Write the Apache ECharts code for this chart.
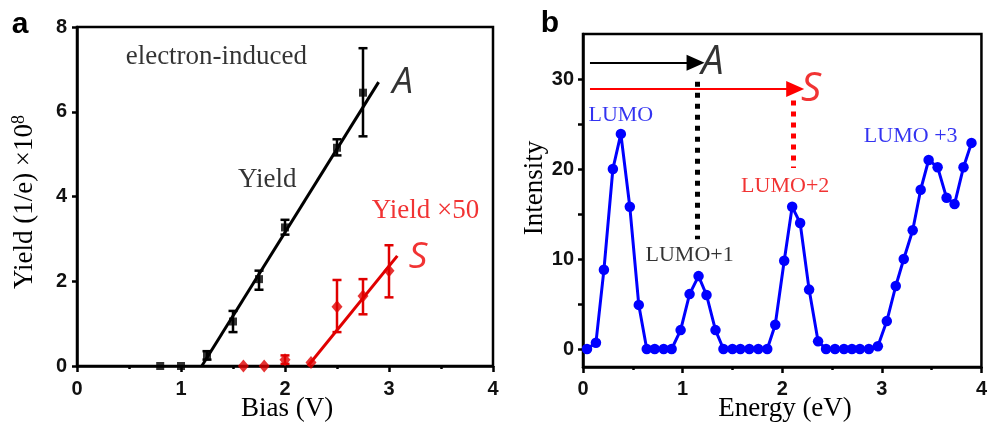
<!DOCTYPE html>
<html><head><meta charset="utf-8">
<script src="https://cdn.jsdelivr.net/npm/echarts@6/dist/echarts.min.js"></script>
<style>html,body{margin:0;padding:0;background:#fff}#c{width:990px;height:426px}</style>
</head><body><div id="c"></div>
<script>
// ---------- Panel a data ----------
const biasA   = [0.8, 1.0, 1.25, 1.5, 1.75, 2.0, 2.5, 2.75];
const yieldA  = [0, 0, 0.25, 1.05, 2.05, 3.27, 5.15, 6.45];
const errLoA  = [0, 0, 0.15, 0.8, 1.8, 3.1, 4.97, 5.42];
const errHiA  = [0, 0, 0.35, 1.3, 2.25, 3.45, 5.35, 7.5];
const biasS   = [1.6, 1.8, 2.0, 2.25, 2.5, 2.75, 3.0];
const yieldS  = [0, 0, 0.15, 0.08, 1.4, 1.65, 2.25];
const errLoS  = [0, 0, 0.05, 0.08, 0.8, 1.22, 1.62];
const errHiS  = [0, 0, 0.25, 0.08, 2.03, 2.05, 2.85];
const fitA    = [[1.2, 0], [2.9, 6.7]];
const fitS    = [[2.22, 0], [3.08, 2.6]];
const xTicksA = [0, 1, 2, 3, 4];
const yTicksA = [0, 2, 4, 6, 8];

// ---------- Panel b data ----------
const energy = [0.04,0.13,0.21,0.30,0.38,0.47,0.56,0.64,0.72,0.81,0.89,0.98,1.07,1.16,1.24,1.33,1.41,1.50,1.58,1.67,1.76,1.85,1.93,2.02,2.10,2.18,2.27,2.36,2.44,2.53,2.62,2.70,2.78,2.87,2.96,3.05,3.14,3.22,3.31,3.39,3.47,3.56,3.65,3.73,3.82,3.90];
const intensity = [0,0.7,8.8,20.0,23.9,15.8,4.9,0,0,0,0,2.1,6.1,8.1,6.0,2.1,0,0,0,0,0,0,2.7,9.8,15.8,14.0,6.6,0.85,0,0,0,0,0,0,0.3,3.1,7.0,10.0,13.2,17.7,21.0,20.2,16.8,16.1,20.2,22.9];
const xTicksB = [0, 1, 2, 3, 4];
const yTicksB = [0, 10, 20, 30];
const yMinorB = [0, 5, 10, 15, 20, 25, 30];

// annotation positions (data coords)
const arrowA = [[0.07, 31.8], [1.13, 31.8]];
const arrowS = [[0.07, 28.9], [2.13, 28.9]];
const dotA   = [[1.146, 29.7], [1.146, 12.2]];
const dotS   = [[2.115, 27.6], [2.115, 20.1]];
const textsA = [
  {name:'electron-induced', value:[1.34, 7.29], c:'#000000', f:'serif'},
  {name:'Yield', value:[1.83, 4.39], c:'#000000', f:'serif'},
  {name:'Yield ×50', value:[3.35, 3.66], c:'#ee0000', f:'serif'},
  {name:'A', value:[3.13, 6.70], c:'#000000', f:'ital'},
  {name:'S', value:[3.28, 2.55], c:'#ee0000', f:'ital'}
];
const textsB = [
  {name:'LUMO', value:[0.38, 26.0], c:'#0000ee', f:'serifS'},
  {name:'LUMO+1', value:[1.07, 10.4], c:'#000000', f:'serifS'},
  {name:'LUMO+2', value:[2.03, 18.1], c:'#ee0000', f:'serifS'},
  {name:'LUMO +3', value:[3.29, 23.6], c:'#0000ee', f:'serifS'},
  {name:'A', value:[1.30, 31.8], c:'#000000', f:'italB'},
  {name:'S', value:[2.29, 28.8], c:'#ee0000', f:'italB'}
];

const fonts = {
  serif: {fontFamily:'Liberation Serif', fontSize:27},
  serifS:{fontFamily:'Liberation Serif', fontSize:22},
  ital:  {fontFamily:'Open Sans', fontStyle:'italic', fontSize:37},
  italB: {fontFamily:'Open Sans', fontStyle:'italic', fontSize:40}
};

function errItem(params, api) {
  const x = api.value(0), lo = api.value(1), hi = api.value(2);
  if (hi - lo < 1e-9) return null;
  const a = api.coord([x, lo]), b = api.coord([x, hi]);
  const w = 4.5;
  const st = {stroke: api.visual('color'), lineWidth: 2.5};
  return {type:'group', children:[
    {type:'line', shape:{x1:a[0], y1:a[1], x2:b[0], y2:b[1]}, style:st},
    {type:'line', shape:{x1:a[0]-w, y1:a[1], x2:a[0]+w, y2:a[1]}, style:st},
    {type:'line', shape:{x1:b[0]-w, y1:b[1], x2:b[0]+w, y2:b[1]}, style:st}
  ]};
}

const tickLbl = {fontFamily:'Liberation Sans', fontWeight:'bold', fontSize:20, color:'#111'};
const axisLine = {show:true, onZero:false, lineStyle:{color:'#000', width:2.5}};

const chart = echarts.init(document.getElementById('c'), null, {renderer:'canvas'});
chart.setOption({
  animation:false,
  backgroundColor:'#fff',
  grid:[
    {left:77, top:27, width:416, height:339, show:true, borderColor:'#000', borderWidth:2.5, backgroundColor:'transparent'},
    {left:583, top:34, width:406, height:333, show:true, borderColor:'#000', borderWidth:2.5, backgroundColor:'transparent'}
  ],
  xAxis:[
    {gridIndex:0, type:'value', min:0, max:4, interval:1, axisLine,
     axisTick:{show:true, length:6, lineStyle:{width:2.5, color:'#000'}},
     minorTick:{show:true, splitNumber:2, length:3, lineStyle:{width:2.5, color:'#000'}},
     splitLine:{show:false}, axisLabel:Object.assign({margin:13, customValues:xTicksA}, tickLbl)},
    {gridIndex:1, type:'value', min:0, max:4, interval:1, axisLine,
     axisTick:{show:true, length:6, lineStyle:{width:2.5, color:'#000'}},
     minorTick:{show:true, splitNumber:2, length:3, lineStyle:{width:2.5, color:'#000'}},
     splitLine:{show:false}, axisLabel:Object.assign({margin:12, customValues:xTicksB}, tickLbl)}
  ],
  yAxis:[
    {gridIndex:0, type:'value', min:0, max:8, interval:2, axisLine,
     axisTick:{show:true, length:5, lineStyle:{width:2.5, color:'#000'}},
     splitLine:{show:false}, axisLabel:Object.assign({margin:10, customValues:yTicksA}, tickLbl)},
    {gridIndex:1, type:'value', min:-2, max:35, axisLine,
     axisTick:{show:true, length:5, customValues:yMinorB, lineStyle:{width:2.5, color:'#000'}},
     splitLine:{show:false}, axisLabel:Object.assign({margin:9, customValues:yTicksB}, tickLbl)}
  ],
  series:[
    {type:'line', xAxisIndex:0, yAxisIndex:0, data:fitA, symbol:'none', lineStyle:{color:'#000', width:3}, z:2},
    {type:'line', xAxisIndex:0, yAxisIndex:0, data:fitS, symbol:'none', lineStyle:{color:'#e00000', width:3}, z:2},
    {type:'custom', xAxisIndex:0, yAxisIndex:0, itemStyle:{color:'#000'}, renderItem:errItem,
     data:biasA.map((x,i)=>[x, errLoA[i], errHiA[i]]), z:3},
    {type:'custom', xAxisIndex:0, yAxisIndex:0, itemStyle:{color:'#e00000'}, renderItem:errItem,
     data:biasS.map((x,i)=>[x, errLoS[i], errHiS[i]]), z:3},
    {type:'scatter', xAxisIndex:0, yAxisIndex:0, symbol:'rect', symbolSize:8, itemStyle:{color:'#000'},
     data:biasA.map((x,i)=>[x, yieldA[i]]), z:4},
    {type:'scatter', xAxisIndex:0, yAxisIndex:0, symbol:'diamond', symbolSize:[11,13], itemStyle:{color:'#e00000'},
     data:biasS.map((x,i)=>[x, yieldS[i]]), z:4},
    {type:'scatter', xAxisIndex:0, yAxisIndex:0, symbolSize:0, silent:true, z:6,
     data:textsA.map(t=>({name:t.name, value:t.value,
       label:Object.assign({show:true, position:'inside', formatter:'{b}', color:t.c, textBorderWidth:0, textShadowBlur:0}, fonts[t.f])}))},
    {type:'line', xAxisIndex:1, yAxisIndex:1, data:energy.map((x,i)=>[x, intensity[i]]),
     symbol:'circle', symbolSize:10.5, lineStyle:{color:'#0000ff', width:3}, itemStyle:{color:'#0000ff'}, z:3},
    {type:'scatter', xAxisIndex:1, yAxisIndex:1, symbolSize:0, silent:true, z:6,
     data:textsB.map(t=>({name:t.name, value:t.value,
       label:Object.assign({show:true, position:'inside', formatter:'{b}', color:t.c, textBorderWidth:0, textShadowBlur:0}, fonts[t.f])})),
     markLine:{silent:true, animation:false, label:{show:false},
       data:[
         [{coord:arrowA[0], symbol:'none'}, {coord:arrowA[1], symbol:'triangle', symbolSize:[16,18], lineStyle:{color:'#000', width:2, type:'solid'}, itemStyle:{color:'#000'}}],
         [{coord:arrowS[0], symbol:'none'}, {coord:arrowS[1], symbol:'triangle', symbolSize:[16,18], lineStyle:{color:'#ff0000', width:2, type:'solid'}, itemStyle:{color:'#ff0000'}}],
         [{coord:dotA[0], symbol:'none'}, {coord:dotA[1], symbol:'none', lineStyle:{color:'#000', width:5, type:[5,6]}}],
         [{coord:dotS[0], symbol:'none'}, {coord:dotS[1], symbol:'none', lineStyle:{color:'#ff0000', width:5, type:[5,6]}}]
       ]}}
  ],
  graphic:[
    {type:'text', x:20, y:25, style:{text:'a', font:'bold 30px "Liberation Sans"', fill:'#000', align:'center', verticalAlign:'middle'}},
    {type:'text', x:550, y:24, style:{text:'b', font:'bold 30px "Liberation Sans"', fill:'#000', align:'center', verticalAlign:'middle'}},
    {type:'text', x:287, y:409, style:{text:'Bias (V)', font:'27px "Liberation Serif"', fill:'#000', align:'center', verticalAlign:'middle'}},
    {type:'text', x:785, y:409, style:{text:'Energy (eV)', font:'27px "Liberation Serif"', fill:'#000', align:'center', verticalAlign:'middle'}},
    {type:'text', x:535, y:188, rotation:Math.PI/2, style:{text:'Intensity', font:'27px "Liberation Serif"', fill:'#000', align:'center', verticalAlign:'middle'}},
    {type:'text', x:25, y:202, rotation:Math.PI/2, style:{text:'{m|Yield (1/e) ×10}{s|8}', align:'center', verticalAlign:'middle',
      rich:{m:{font:'27px "Liberation Serif"', fill:'#000'}, s:{font:'18px "Liberation Serif"', fill:'#000', padding:[0,0,12,0]}}}}
  ]
});
</script></body></html>
